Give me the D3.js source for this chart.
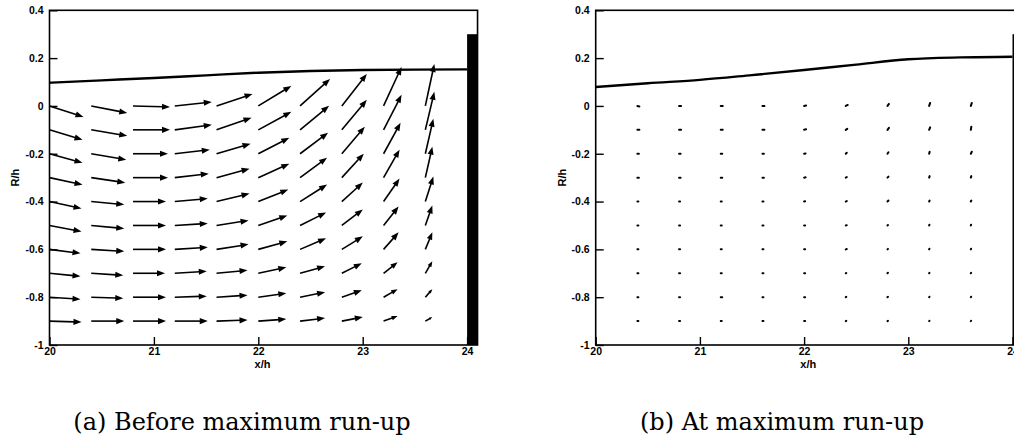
<!DOCTYPE html>
<html><head><meta charset="utf-8">
<script src="https://cdn.jsdelivr.net/npm/d3@7"></script>
<style>
html,body{margin:0;padding:0;background:#fff;}
svg{display:block;}
.tk text{font-family:"Liberation Sans",Arial,sans-serif;font-weight:bold;font-size:10.5px;fill:#000;}
.lab{font-family:"Liberation Sans",Arial,sans-serif;font-weight:bold;font-size:11px;fill:#000;}
.cap{font-family:"DejaVu Serif",serif;font-size:24px;fill:#000;}
</style></head>
<body>
<svg id="c" width="1014" height="439"></svg>
<script>
// ---------------- data ----------------
const xTicks = [20, 21, 22, 23, 24];
const xTickLabels = ["20", "21", "22", "23", "24"];
const yTicks = [0.4, 0.2, 0, -0.2, -0.4, -0.6, -0.8, -1];
const yTickLabels = ["0.4", "0.2", "0", "-0.2", "-0.4", "-0.6", "-0.8", "-1"];
const captions = ["(a) Before maximum run-up", "(b) At maximum run-up"];

// grid of velocity vectors: rows (R/h) and columns (x/h)
const zRows = [0, -0.1, -0.2, -0.3, -0.4, -0.5, -0.6, -0.7, -0.8, -0.9];
const xColsA = [20, 20.4, 20.8, 21.2, 21.6, 22.0, 22.4, 22.8, 23.2, 23.6];
const xColsB = [20.4, 20.8, 21.2, 21.6, 22.0, 22.4, 22.8, 23.2, 23.6];

// panel (a): horizontal / vertical velocity (w positive upward)
const uA = [
  [34, 36, 37, 37, 36, 33, 30, 25, 18, 9],
  [33, 36, 37, 37, 35, 33, 29, 25, 18, 9],
  [33, 35, 35, 35, 34, 31, 28, 23, 17, 8],
  [33, 34, 35, 34, 33, 31, 27, 22, 16, 7],
  [32, 33, 33, 33, 33, 30, 27, 21, 16, 8],
  [32, 33, 33, 33, 32, 29, 26, 21, 15, 7],
  [31, 33, 33, 33, 32, 29, 26, 21, 15, 7],
  [31, 32, 32, 32, 31, 28, 25, 20, 14, 7],
  [31, 32, 33, 32, 31, 28, 25, 20, 14, 7],
  [32, 33, 33, 33, 31, 28, 25, 21, 14, 7]
];
const wA = [
  [-11, -7, -1, 4, 12, 20, 27, 32, 39, 42],
  [-10, -6, 0, 5, 12, 18, 24, 30, 35, 38],
  [-9, -6, 0, 4, 10, 16, 21, 27, 31, 35],
  [-7, -5, 0, 4, 9, 14, 20, 24, 28, 31],
  [-7, -3, 0, 3, 8, 12, 17, 19, 23, 25],
  [-6, -3, 0, 2, 5, 10, 13, 16, 19, 20],
  [-4, -2, 0, 2, 5, 8, 11, 13, 17, 17],
  [-3, -2, 0, 2, 3, 6, 7, 10, 11, 12],
  [-2, -1, 0, 1, 2, 4, 5, 7, 8, 8],
  [-1, 0, 0, 0, 1, 2, 3, 4, 5, 4]
];
// panel (b): nearly still water
const uB = [
  [2, 2, 2, 2, 2, 2, 1.5, 1, 1],
  [2, 2, 2, 2, 2, 1.5, 1.5, 1, 0.5],
  [1.5, 1.5, 1.5, 1.5, 1.5, 1, 1, 0.5, 1],
  [1.5, 1.5, 1.5, 1.5, 1.5, 1, 1, 0.5, 0.5],
  [1, 1, 1, 1, 1, 1, 1, 0.5, 0.5],
  [1, 1, 1, 1, 1, 1, 0.5, 0.3, 0.3],
  [1, 1, 1, 1, 1, 1, 0.5, 0.3, 0.3],
  [1, 1, 1, 1, 1, 0.5, 0.5, 0.3, 0.3],
  [1, 1, 1.5, 1, 1, 0.5, 0.5, 0.3, 0.3],
  [1, 1, 1, 1, 1, 0.5, 0.5, 0.3, 0.3]
];
const wB = [
  [-0.5, 0, 0, 0, 0.5, 1, 2, 3, 3],
  [0, 0, 0, 0, 0.5, 1, 2, 2.5, 3],
  [0, 0, 0, 0, 0.3, 1, 1.5, 2, 2],
  [0, 0, 0, 0, 0.3, 0.5, 1, 1.5, 1.5],
  [0, 0, 0, 0, 0.3, 0.5, 1, 1, 1],
  [0, 0, 0, 0, 0, 0.3, 0.5, 0.7, 0.7],
  [0, 0, 0, 0, 0, 0.3, 0.5, 0.7, 0.7],
  [0, 0, 0, 0, 0, 0.3, 0.5, 0.5, 0.5],
  [0, 0, 0, 0, 0, 0.3, 0.3, 0.5, 0.5],
  [0, 0, 0, 0, 0, 0.3, 0.3, 0.3, 0.3]
];

// free surface profiles
const surfX = [20, 20.5, 21, 21.5, 22, 22.5, 23, 23.5, 24];
const surfA = [0.097, 0.107, 0.117, 0.128, 0.139, 0.146, 0.150, 0.152, 0.153];
const surfB = [0.079, 0.095, 0.109, 0.129, 0.150, 0.173, 0.195, 0.203, 0.206];

// vertical wall
const wallX = [24, 24.1];
const wallZ = [-1, 0.3];

// ---------------- drawing ----------------
const svg = d3.select("#c");
const yScale = d3.scaleLinear().domain([-1, 0.4]).range([345, 10.3]);
const vScale = d3.scaleLinear().domain([0, 1]).range([0, 1]); // velocity -> px

const panels = [
  {x0: 49.5, unit: 104.4, cols: xColsA, u: uA, w: wA, surf: surfA, cap: captions[0], capX: 242},
  {x0: 595.7, unit: 104.2, cols: xColsB, u: uB, w: wB, surf: surfB, cap: captions[1], capX: 782}
];

panels.forEach(p => {
  const x = d3.scaleLinear().domain([20, 24.1]).range([p.x0, p.x0 + 4.1 * p.unit]);
  const y = yScale;
  const g = svg.append("g");

  // wall
  g.append("rect")
    .attr("x", x(wallX[0])).attr("width", x(wallX[1]) - x(wallX[0]))
    .attr("y", y(wallZ[1])).attr("height", y(wallZ[0]) - y(wallZ[1]))
    .attr("fill", "#000");

  // vectors
  const vg = g.append("g");
  zRows.forEach((z, i) => {
    p.cols.forEach((xc, j) => {
      const u = p.u[i][j], w = p.w[i][j];
      const x1 = x(xc), y1 = y(z);
      const dx = vScale(u), dy = -vScale(w);
      const len = Math.hypot(dx, dy);
      const x2 = x1 + dx, y2 = y1 + dy;
      const big = len > 4;
      const hl = Math.min(8, 0.4 * len);
      const hw = hl * 0.38;
      const ux = dx / (len || 1), uy = dy / (len || 1);
      const bx = x2 - ux * hl, by = y2 - uy * hl;
      vg.append("line")
        .attr("x1", x1).attr("y1", y1).attr("x2", big ? bx + ux : x2).attr("y2", big ? by + uy : y2)
        .attr("stroke", "#000").attr("stroke-width", big ? 1.6 : 2)
        .attr("stroke-linecap", big ? "butt" : "round");
      if (big) {
        vg.append("path")
          .attr("d", `M${x2},${y2}L${bx - uy * hw},${by + ux * hw}L${bx + uy * hw},${by - ux * hw}Z`)
          .attr("fill", "#000");
      }
    });
  });

  // free surface
  g.append("path")
    .datum(surfX.map((d, k) => [d, p.surf[k]]))
    .attr("d", d3.line().x(d => x(d[0])).y(d => y(d[1])).curve(d3.curveMonotoneX))
    .attr("fill", "none").attr("stroke", "#000").attr("stroke-width", 2.4);

  // frame
  g.append("rect")
    .attr("x", x(20)).attr("y", y(0.4))
    .attr("width", x(24.1) - x(20)).attr("height", y(-1) - y(0.4))
    .attr("fill", "none").attr("stroke", "#000").attr("stroke-width", 1.6);

  // axes
  const ya = g.append("g").attr("class", "tk").attr("transform", `translate(${x(20)},0)`)
    .call(d3.axisLeft(y).tickValues(yTicks).tickSizeInner(-8).tickSizeOuter(0).tickPadding(6)
      .tickFormat((d, k) => yTickLabels[k]));
  ya.select(".domain").remove();
  ya.selectAll("line").attr("stroke-width", 1.4);
  ya.selectAll("text").attr("x", -6);

  const xa = g.append("g").attr("class", "tk").attr("transform", `translate(0,${y(-1)})`)
    .call(d3.axisBottom(x).tickValues(xTicks).tickSizeInner(-8).tickSizeOuter(0).tickPadding(3)
      .tickFormat((d, k) => xTickLabels[k]));
  xa.select(".domain").remove();
  xa.selectAll("line").attr("stroke-width", 1.4);
  xa.selectAll("text").attr("y", 3);

  // axis titles
  g.append("text").attr("class", "lab")
    .attr("x", x(22.04)).attr("y", 368).attr("text-anchor", "middle").text("x/h");
  g.append("text").attr("class", "lab")
    .attr("transform", `translate(${p.x0 - 34},${(y(0.4) + y(-1)) / 2}) rotate(-90)`)
    .attr("text-anchor", "middle").attr("dy", "0.35em").text("R/h");

  // caption
  svg.append("text").attr("class", "cap")
    .attr("x", p.capX).attr("y", 430).attr("text-anchor", "middle").text(p.cap);
});
</script>
</body></html>
